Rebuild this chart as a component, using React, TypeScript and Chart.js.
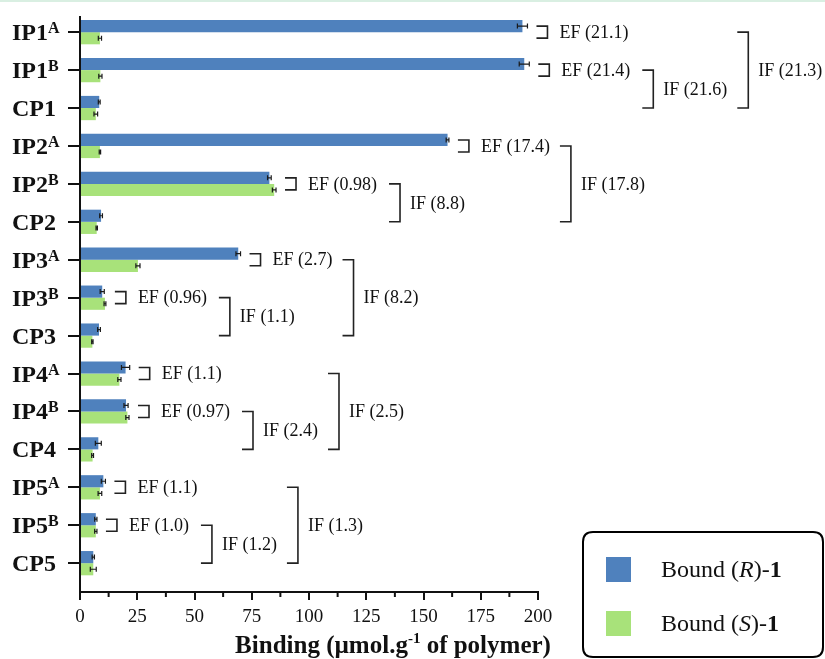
import React, { useEffect, useRef } from "react";
import { Chart, registerables } from "chart.js";

Chart.register(...registerables);

const categories = ["IP1^A", "IP1^B", "CP1", "IP2^A", "IP2^B", "CP2", "IP3^A", "IP3^B", "CP3", "IP4^A", "IP4^B", "CP4", "IP5^A", "IP5^B", "CP5"];
const boundR = [193.2, 194.0, 8.4, 160.5, 82.7, 9.2, 69.1, 9.7, 8.3, 19.9, 20.1, 8.0, 10.2, 6.9, 5.8];
const boundS = [8.7, 8.9, 6.9, 8.7, 84.8, 7.3, 25.3, 10.9, 5.4, 17.2, 20.7, 5.5, 8.7, 6.9, 5.8];
const errR = [2.2, 2.2, 0.4, 0.6, 0.8, 0.6, 1.0, 0.9, 0.6, 1.8, 0.9, 1.3, 0.9, 0.5, 0.5];
const errS = [0.7, 0.7, 0.8, 0.3, 0.8, 0.3, 0.9, 0.4, 0.3, 0.7, 0.7, 0.4, 0.8, 0.5, 1.3];
const xTicks = [0, 25, 50, 75, 100, 125, 150, 175, 200];

// enantioselectivity factors (EF) per imprinted polymer row
const efRows = [0, 1, 3, 4, 6, 7, 9, 10, 12, 13];
const efLabels = ["EF (21.1)", "EF (21.4)", "EF (17.4)", "EF (0.98)", "EF (2.7)", "EF (0.96)", "EF (1.1)", "EF (0.97)", "EF (1.1)", "EF (1.0)"];
// imprinting factors (IF): small bracket B-row -> CP, large bracket A-row -> CP
const ifSmallFrom = [1, 4, 7, 10, 13];
const ifSmallLabels = ["IF (21.6)", "IF (8.8)", "IF (1.1)", "IF (2.4)", "IF (1.2)"];
const ifLargeFrom = [0, 3, 6, 9, 12];
const ifLargeLabels = ["IF (21.3)", "IF (17.8)", "IF (8.2)", "IF (2.5)", "IF (1.3)"];

const BLUE = "#4f81bd";
const GREEN = "#a8e27a";
const INK = "#111111";
const SERIF = "'Liberation Serif', 'Times New Roman', serif";

const overlay = {
  id: "overlay",
  afterDraw(chart: any) {
    const ctx = chart.ctx as CanvasRenderingContext2D;
    const xs = chart.scales.x;
    const ys = chart.scales.y;
    const area = chart.chartArea;
    ctx.save();

    // top thin border line
    ctx.fillStyle = "#d9efe2";
    ctx.fillRect(0, 0, chart.width, 2);

    // minor x ticks
    ctx.strokeStyle = INK;
    ctx.lineWidth = 2;
    for (let v = 12.5; v < 200; v += 25) {
      const px = xs.getPixelForValue(v);
      ctx.beginPath();
      ctx.moveTo(px, area.bottom);
      ctx.lineTo(px, area.bottom + 5);
      ctx.stroke();
    }

    // y category labels with superscripts
    ctx.fillStyle = INK;
    ctx.textBaseline = "alphabetic";
    ctx.textAlign = "left";
    categories.forEach((c, i) => {
      const [base, sup] = c.split("^");
      const y = ys.getPixelForValue(i);
      ctx.font = `bold 24px ${SERIF}`;
      ctx.fillText(base, 12, y + 8);
      const w = ctx.measureText(base).width;
      if (sup) {
        ctx.font = `bold 16px ${SERIF}`;
        ctx.fillText(sup, 12 + w, y + 1);
      }
    });

    // error bars
    const errs = [errR, errS];
    const vals = [boundR, boundS];
    ctx.strokeStyle = "#1a1a1a";
    ctx.lineWidth = 1.2;
    [0, 1].forEach((d) => {
      const meta = chart.getDatasetMeta(d);
      meta.data.forEach((el: any, i: number) => {
        const v = vals[d][i];
        const e = errs[d][i];
        const x0 = xs.getPixelForValue(v - e);
        const x1 = xs.getPixelForValue(v + e);
        const y = el.y;
        ctx.beginPath();
        ctx.moveTo(x0, y);
        ctx.lineTo(x1, y);
        ctx.moveTo(x0, y - 2.5);
        ctx.lineTo(x0, y + 2.5);
        ctx.moveTo(x1, y - 2.5);
        ctx.lineTo(x1, y + 2.5);
        ctx.stroke();
      });
    });

    // EF brackets
    ctx.font = `18px ${SERIF}`;
    ctx.textBaseline = "middle";
    ctx.strokeStyle = "#222";
    ctx.lineWidth = 1.6;
    const efEnd: Record<number, number> = {};
    efRows.forEach((row, k) => {
      const maxV = Math.max(boundR[row] + errR[row], boundS[row] + errS[row]);
      const bx = xs.getPixelForValue(maxV) + 9;
      const cy = ys.getPixelForValue(row);
      ctx.beginPath();
      ctx.moveTo(bx, cy - 6);
      ctx.lineTo(bx + 11, cy - 6);
      ctx.lineTo(bx + 11, cy + 6);
      ctx.lineTo(bx, cy + 6);
      ctx.stroke();
      const tx = bx + 23;
      ctx.fillStyle = INK;
      ctx.fillText(efLabels[k], tx, cy + 1);
      efEnd[row] = tx + ctx.measureText(efLabels[k]).width;
    });

    const drawIF = (x: number, from: number, to: number, label: string) => {
      const y0 = ys.getPixelForValue(from);
      const y1 = ys.getPixelForValue(to);
      ctx.beginPath();
      ctx.moveTo(x, y0);
      ctx.lineTo(x + 11, y0);
      ctx.lineTo(x + 11, y1);
      ctx.lineTo(x, y1);
      ctx.stroke();
      const tx = x + 21;
      ctx.fillText(label, tx, (y0 + y1) / 2 + 1);
      return tx + ctx.measureText(label).width;
    };

    ifSmallFrom.forEach((from, k) => {
      const to = from + 1;
      const sx = efEnd[from] + 12;
      const smallEnd = drawIF(sx, from, to, ifSmallLabels[k]);
      const aRow = ifLargeFrom[k];
      const lx = Math.max(efEnd[aRow], smallEnd) + 10;
      drawIF(lx, aRow, to, ifLargeLabels[k]);
    });

    // x axis title
    ctx.textBaseline = "alphabetic";
    const t1 = "Binding (µmol.g";
    const t2 = "-1";
    const t3 = " of polymer)";
    ctx.font = `bold 25px ${SERIF}`;
    const w1 = ctx.measureText(t1).width;
    const w3 = ctx.measureText(t3).width;
    ctx.font = `bold 15px ${SERIF}`;
    const w2 = ctx.measureText(t2).width;
    const total = w1 + w2 + w3;
    let tx = 393 - total / 2;
    const ty = 653;
    ctx.font = `bold 25px ${SERIF}`;
    ctx.fillText(t1, tx, ty);
    tx += w1;
    ctx.font = `bold 15px ${SERIF}`;
    ctx.fillText(t2, tx, ty - 10);
    tx += w2;
    ctx.font = `bold 25px ${SERIF}`;
    ctx.fillText(t3, tx, ty);

    // legend
    const lx = 583, ly = 532, lw = 240, lh = 125, r = 10;
    ctx.strokeStyle = "#000";
    ctx.lineWidth = 2;
    ctx.beginPath();
    ctx.moveTo(lx + r, ly);
    ctx.lineTo(lx + lw - r, ly);
    ctx.quadraticCurveTo(lx + lw, ly, lx + lw, ly + r);
    ctx.lineTo(lx + lw, ly + lh - r);
    ctx.quadraticCurveTo(lx + lw, ly + lh, lx + lw - r, ly + lh);
    ctx.lineTo(lx + r, ly + lh);
    ctx.quadraticCurveTo(lx, ly + lh, lx, ly + lh - r);
    ctx.lineTo(lx, ly + r);
    ctx.quadraticCurveTo(lx, ly, lx + r, ly);
    ctx.stroke();

    const items = [
      { color: BLUE, letter: "R", y: 569 },
      { color: GREEN, letter: "S", y: 623 },
    ];
    items.forEach((it) => {
      ctx.fillStyle = it.color;
      ctx.fillRect(606, it.y - 12, 25, 25);
      ctx.fillStyle = INK;
      let x = 661;
      const by = it.y + 8;
      ctx.font = `24px ${SERIF}`;
      ctx.fillText("Bound (", x, by);
      x += ctx.measureText("Bound (").width;
      ctx.font = `italic 24px ${SERIF}`;
      ctx.fillText(it.letter, x, by);
      x += ctx.measureText(it.letter).width;
      ctx.font = `24px ${SERIF}`;
      ctx.fillText(")-", x, by);
      x += ctx.measureText(")-").width;
      ctx.font = `bold 24px ${SERIF}`;
      ctx.fillText("1", x, by);
    });

    ctx.restore();
  },
};

export default function App() {
  const ref = useRef<HTMLCanvasElement>(null);
  useEffect(() => {
    document.body.style.margin = "0";
    const canvas = ref.current!;
    const chart = new Chart(canvas, {
      type: "bar",
      data: {
        datasets: [
          {
            label: "Bound (R)-1",
            data: boundR.map((v, i) => ({ x: v, y: i })),
            backgroundColor: BLUE,
            categoryPercentage: 0.64,
            barPercentage: 1.0,
          },
          {
            label: "Bound (S)-1",
            data: boundS.map((v, i) => ({ x: v, y: i })),
            backgroundColor: GREEN,
            categoryPercentage: 0.64,
            barPercentage: 1.0,
          },
        ],
      } as any,
      options: {
        indexAxis: "y",
        responsive: false,
        animation: false,
        layout: { padding: { top: 17, right: 287, left: 0, bottom: 0 } },
        plugins: { legend: { display: false }, tooltip: { enabled: false } },
        scales: {
          x: {
            type: "linear",
            min: 0,
            max: 200,
            afterBuildTicks: (s: any) => {
              s.ticks = xTicks.map((v) => ({ value: v }));
            },
            afterFit: (s: any) => {
              s.height = 67;
            },
            ticks: {
              font: { family: SERIF, size: 19 },
              color: INK,
              padding: 6,
              maxRotation: 0,
              autoSkip: false,
            },
            grid: { display: true, drawOnChartArea: false, drawTicks: true, tickLength: 8, color: INK, lineWidth: 2 },
            border: { display: true, color: INK, width: 2 },
          },
          y: {
            type: "linear",
            reverse: true,
            offset: false,
            min: -0.4,
            max: 14.76,
            afterBuildTicks: (s: any) => {
              s.ticks = categories.map((_, i) => ({ value: i }));
            },
            afterFit: (s: any) => {
              s.width = 80;
            },
            ticks: { display: false },
            grid: { display: true, offset: false, drawOnChartArea: false, drawTicks: true, tickLength: 12, color: INK, lineWidth: 2 },
            border: { display: true, color: INK, width: 2 },
          },
        },
      } as any,
      plugins: [overlay],
    });
    return () => chart.destroy();
  }, []);
  return (
    <div style={{ position: "absolute", left: 0, top: 0, width: 825, height: 659, background: "#fff" }}>
      <canvas ref={ref} width={825} height={659} style={{ display: "block", width: 825, height: 659 }} />
    </div>
  );
}
